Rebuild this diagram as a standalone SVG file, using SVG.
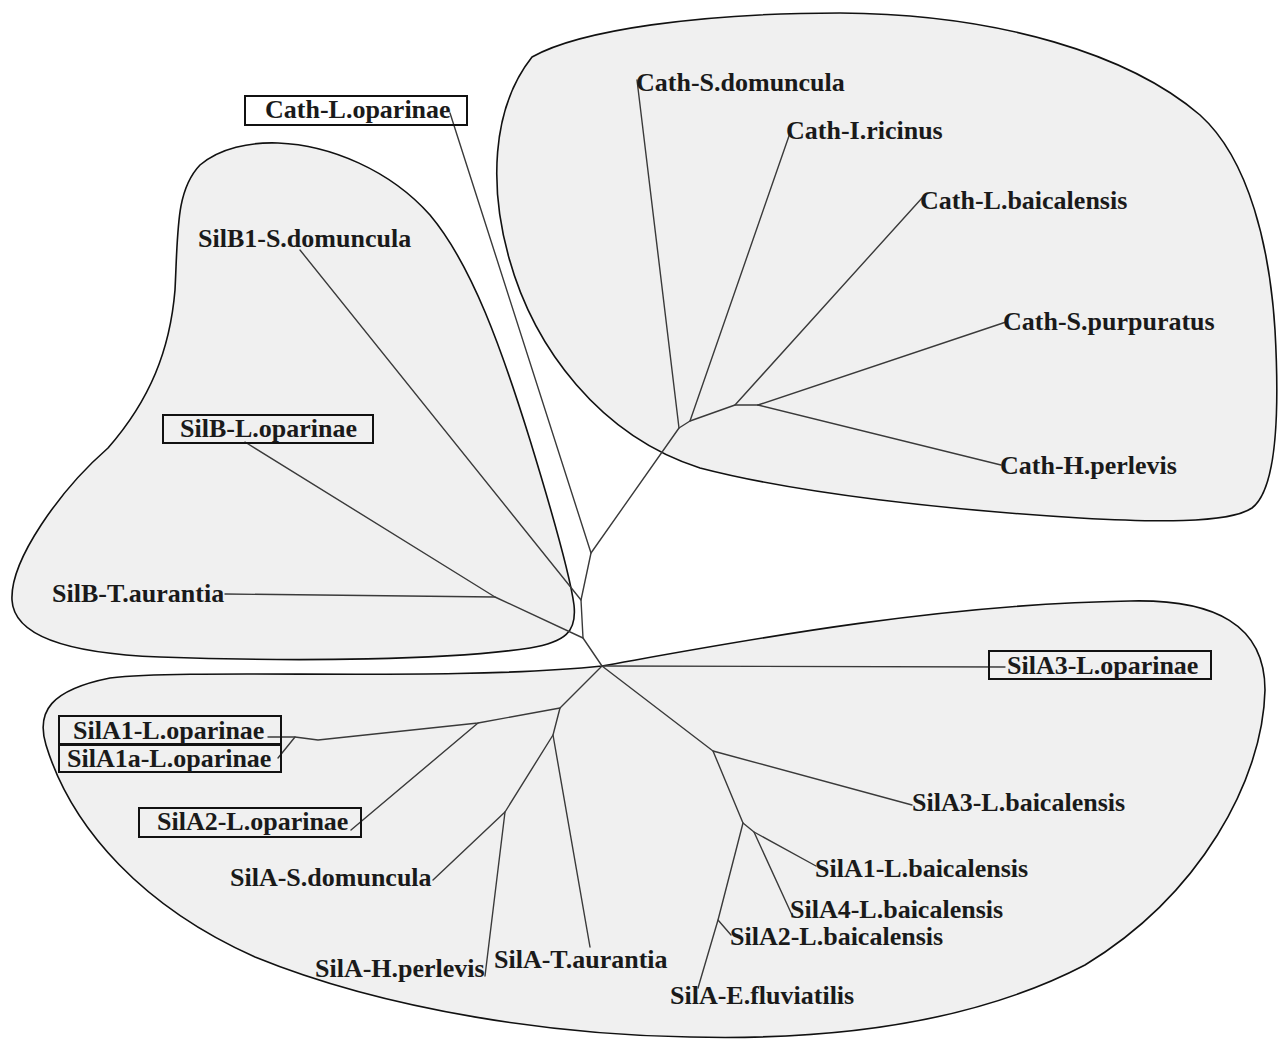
<svg xmlns="http://www.w3.org/2000/svg" width="1281" height="1039" viewBox="0 0 1281 1039">
<style>
.blob{fill:#f0f0f0;stroke:#111;stroke-width:1.6}
.e{stroke:#3a3a3a;stroke-width:1.4;fill:none;stroke-linecap:round;stroke-linejoin:round}
.t{font-family:"Liberation Serif","Times New Roman",serif;font-weight:bold;font-size:26px;fill:#1a1a1a}
.box{fill:none;stroke:#111;stroke-width:2}
</style>
<rect width="1281" height="1039" fill="#fff"/>
<g id="clusters">
<path id="cluster-cath" class="blob" d="M 532 57 C 580 30, 700 13, 840 13 C 1000 14, 1130 55, 1200 115 C 1250 160, 1270 250, 1275 330 C 1280 420, 1276 490, 1252 508 C 1228 524, 1150 522, 1080 518 C 950 510, 800 494, 700 468 C 600 436, 534 348, 509 258 C 490 190, 490 110, 532 57 Z"/>
<path id="cluster-silb" class="blob" d="M 278 143 C 330 145, 390 170, 430 215 C 472 265, 502 350, 530 440 C 553 515, 570 575, 574 605 C 577 632, 565 642, 530 648 C 450 660, 300 662, 160 657 C 80 654, 14 640, 12 600 C 10 560, 60 490, 108 448 C 150 400, 170 350, 175 290 C 178 230, 176 190, 200 165 C 220 148, 250 142, 278 143 Z"/>
<path id="cluster-sila" class="blob" d="M 602 666 C 720 645, 930 604, 1130 601 C 1215 599, 1265 625, 1265 690 C 1263 780, 1200 895, 1085 965 C 960 1030, 810 1040, 690 1037 C 560 1035, 390 1012, 255 957 C 145 908, 72 830, 46 745 C 36 712, 50 690, 110 678 C 200 668, 450 682, 602 666 Z"/>
</g>
<g id="connectors">
<polyline class="e" points="602,666 583,638 581,600 591,553 679,428 690,421 735,405 758,405"/>
<line class="e" x1="679" y1="428" x2="637" y2="80"/>
<line class="e" x1="690" y1="421" x2="790" y2="133"/>
<line class="e" x1="735" y1="405" x2="922" y2="198"/>
<line class="e" x1="758" y1="405" x2="1006" y2="322"/>
<line class="e" x1="758" y1="405" x2="1001" y2="465"/>
<line class="e" x1="591" y1="553" x2="450" y2="113"/>
<line class="e" x1="581" y1="600" x2="300" y2="250"/>
<polyline class="e" points="583,638 495,597 245,442"/>
<line class="e" x1="495" y1="597" x2="225" y2="594"/>
<line class="e" x1="602" y1="666" x2="1005" y2="667"/>
<polyline class="e" points="602,666 713,751 743,823 754,832 816,866"/>
<line class="e" x1="713" y1="751" x2="912" y2="805"/>
<line class="e" x1="754" y1="832" x2="792" y2="915"/>
<polyline class="e" points="743,823 718,920 698,988"/>
<line class="e" x1="718" y1="920" x2="731" y2="935"/>
<polyline class="e" points="602,666 560,708 478,723 318,740 295,737 268,737"/>
<line class="e" x1="295" y1="737" x2="278" y2="758"/>
<line class="e" x1="478" y1="723" x2="351" y2="830"/>
<polyline class="e" points="560,708 553,735 590,947"/>
<polyline class="e" points="553,735 505,812 433,880"/>
<line class="e" x1="505" y1="812" x2="485" y2="976"/>
</g>
<g id="n-cath-loparinae"><rect class="box" x="245" y="96" width="222" height="29"/><text class="t" x="265" y="118">Cath-L.oparinae</text></g>
<g id="n-cath-sdomuncula"><text class="t" x="636" y="91">Cath-S.domuncula</text></g>
<g id="n-cath-iricinus"><text class="t" x="786" y="139">Cath-I.ricinus</text></g>
<g id="n-cath-lbaicalensis"><text class="t" x="920" y="209">Cath-L.baicalensis</text></g>
<g id="n-cath-spurpuratus"><text class="t" x="1003" y="330">Cath-S.purpuratus</text></g>
<g id="n-cath-hperlevis"><text class="t" x="1000" y="474">Cath-H.perlevis</text></g>
<g id="n-silb1-sdomuncula"><text class="t" x="198" y="247">SilB1-S.domuncula</text></g>
<g id="n-silb-loparinae"><rect class="box" x="163" y="415" width="210" height="28"/><text class="t" x="180" y="437">SilB-L.oparinae</text></g>
<g id="n-silb-taurantia"><text class="t" x="52" y="602">SilB-T.aurantia</text></g>
<g id="n-sila3-loparinae"><rect class="box" x="989" y="651" width="222" height="28"/><text class="t" x="1007" y="674">SilA3-L.oparinae</text></g>
<g id="n-sila1-loparinae"><rect class="box" x="59" y="716" width="222" height="28"/><text class="t" x="73" y="739">SilA1-L.oparinae</text></g>
<g id="n-sila1a-loparinae"><rect class="box" x="59" y="745" width="222" height="27"/><text class="t" x="67" y="767">SilA1a-L.oparinae</text></g>
<g id="n-sila2-loparinae"><rect class="box" x="139" y="808" width="222" height="29"/><text class="t" x="157" y="830">SilA2-L.oparinae</text></g>
<g id="n-sila-sdomuncula"><text class="t" x="230" y="886">SilA-S.domuncula</text></g>
<g id="n-sila-hperlevis"><text class="t" x="315" y="977">SilA-H.perlevis</text></g>
<g id="n-sila-taurantia"><text class="t" x="494" y="968">SilA-T.aurantia</text></g>
<g id="n-sila-efluviatilis"><text class="t" x="670" y="1004">SilA-E.fluviatilis</text></g>
<g id="n-sila2-lbaicalensis"><text class="t" x="730" y="945">SilA2-L.baicalensis</text></g>
<g id="n-sila4-lbaicalensis"><text class="t" x="790" y="918">SilA4-L.baicalensis</text></g>
<g id="n-sila1-lbaicalensis"><text class="t" x="815" y="877">SilA1-L.baicalensis</text></g>
<g id="n-sila3-lbaicalensis"><text class="t" x="912" y="811">SilA3-L.baicalensis</text></g>
</svg>
